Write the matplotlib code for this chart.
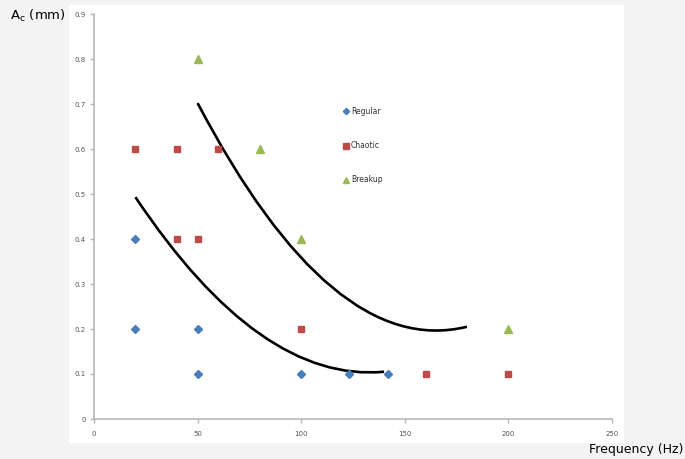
import matplotlib
matplotlib.use('Agg')
import matplotlib.pyplot as plt
from matplotlib.path import Path
from matplotlib.patches import PathPatch

# scatter data
regular_x = [20, 20, 50, 50, 100, 123, 142]
regular_y = [0.4, 0.2, 0.2, 0.1, 0.1, 0.1, 0.1]

chaotic_x = [20, 40, 60, 40, 50, 100, 160, 200]
chaotic_y = [0.6, 0.6, 0.6, 0.4, 0.4, 0.2, 0.1, 0.1]

breakup_x = [50, 80, 100, 200]
breakup_y = [0.8, 0.6, 0.4, 0.2]

# boundary curves (parabolic trend lines): start, control, end
lower_x = [20, 80, 140]
lower_y = [0.493, 0.079, 0.105]

upper_x = [50, 115, 180]
upper_y = [0.702, 0.131, 0.205]

x_ticks = [0, 50, 100, 150, 200, 250]
y_ticks = [0, 0.1, 0.2, 0.3, 0.4, 0.5, 0.6, 0.7, 0.8, 0.9]

W, H = 685, 459
fig = plt.figure(figsize=(W / 100, H / 100), dpi=100)
fig.patch.set_facecolor('#f3f3f3')

# white chart area behind the plot
bg = fig.add_axes([69 / W, 1 - 443 / H, (624 - 69) / W, (443 - 5) / H])
bg.set_facecolor('white')
bg.set_xticks([])
bg.set_yticks([])
for s in bg.spines.values():
    s.set_visible(False)

ax = fig.add_axes([94 / W, 1 - 419 / H, (612 - 94) / W, (419 - 14) / H])
ax.set_facecolor('none')

for cx, cy in [(lower_x, lower_y), (upper_x, upper_y)]:
    p = Path(list(zip(cx, cy)), [Path.MOVETO, Path.CURVE3, Path.CURVE3])
    ax.add_patch(PathPatch(p, facecolor='none', edgecolor='black', lw=1.9,
                           capstyle='butt', zorder=2))

ax.plot(regular_x, regular_y, 'D', color='#4a7ebb', ms=4, ls='none',
        label='Regular', zorder=3)
ax.plot(chaotic_x, chaotic_y, 's', color='#be4b48', ms=5, ls='none',
        label='Chaotic', zorder=3)
ax.plot(breakup_x, breakup_y, '^', color='#98b954', ms=5.5, ls='none',
        label='Breakup', zorder=3)

ax.set_xlim(0, 250)
ax.set_ylim(0, 0.9)
ax.set_xticks(x_ticks)
ax.set_yticks(y_ticks)
ax.set_xticklabels([str(t) for t in x_ticks])
ax.set_yticklabels(['0'] + ['%.1f' % t for t in y_ticks[1:]])

for side in ['top', 'right']:
    ax.spines[side].set_visible(False)
for side in ['left', 'bottom']:
    ax.spines[side].set_color('#b8b8b8')
    ax.spines[side].set_linewidth(1.2)

ax.tick_params(axis='both', colors='#b8b8b8', labelcolor='#555555',
               labelsize=5, length=3, width=1)
ax.tick_params(axis='x', pad=6)
ax.tick_params(axis='y', pad=3)

leg = ax.legend(loc='upper left', bbox_to_anchor=(0.477, 0.778), frameon=False,
                fontsize=5.5, labelspacing=3.3, handlelength=0.6,
                handletextpad=0.3, borderaxespad=0, markerscale=0.8)
for t in leg.get_texts():
    t.set_color('#333333')

fig.text(10 / W, 1 - 16 / H, 'A$_\\mathrm{c}$ (mm)', fontsize=9.5,
         ha='left', va='center', color='black')
fig.text(683 / W, 1 - 450 / H, 'Frequency (Hz)', fontsize=9,
         ha='right', va='center', color='black')

fig.savefig('out.png', dpi=100, facecolor=fig.get_facecolor())
